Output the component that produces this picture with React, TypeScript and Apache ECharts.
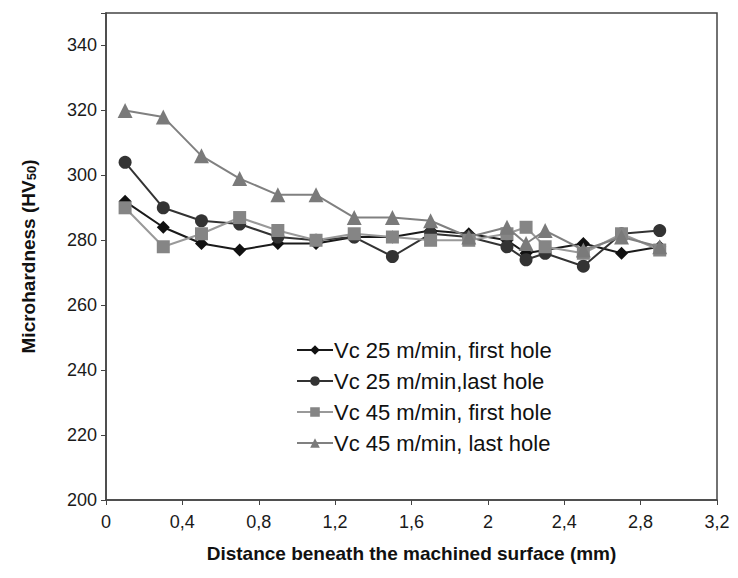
import React, { useEffect, useRef } from "react";
import * as echarts from "echarts";

const distances = [0.1, 0.3, 0.5, 0.7, 0.9, 1.1, 1.3, 1.5, 1.7, 1.9, 2.1, 2.2, 2.3, 2.5, 2.7, 2.9];
const vc25First = [292, 284, 279, 277, 279, 279, 281, 281, 283, 282, 280, 276, 277, 279, 276, 278];
const vc25Last = [304, 290, 286, 285, 281, 280, 281, 275, 282, 281, 278, 274, 276, 272, 282, 283];
const vc45First = [290, 278, 282, 287, 283, 280, 282, 281, 280, 280, 282, 284, 278, 276, 282, 277];
const vc45Last = [320, 318, 306, 299, 294, 294, 287, 287, 286, 281, 284, 279, 283, 277, 281, 278];

const seriesNames = [
  "Vc 25 m/min, first hole",
  "Vc 25 m/min,last hole",
  "Vc 45 m/min, first hole",
  "Vc 45 m/min, last hole",
];

const pair = (ys: number[]) => distances.map((x, i) => [x, ys[i]]);

export default function App() {
  const ref = useRef<HTMLDivElement>(null);
  useEffect(() => {
    if (!ref.current) return;
    const chart = echarts.init(ref.current, undefined, { renderer: "svg" });
    const font = "Liberation Sans, Arial, sans-serif";
    const mk = (name: string, data: number[], symbol: string, size: number, color: string, lineColor: string) => ({
      name,
      type: "line",
      data: pair(data),
      symbol,
      symbolSize: size,
      itemStyle: { color },
      lineStyle: { color: lineColor, width: 2 },
    });
    chart.setOption({
      animation: false,
      backgroundColor: "#ffffff",
      textStyle: { fontFamily: font },
      grid: {
        left: 106,
        right: 21,
        top: 13,
        bottom: 78,
        show: true,
        borderColor: "#444",
        borderWidth: 1.5,
      },
      legend: {
        orient: "vertical",
        left: 291,
        top: 334,
        itemWidth: 36,
        itemHeight: 12,
        itemGap: 9,
        textStyle: { fontSize: 22, color: "#111", fontFamily: font, padding: [0, 0, 0, -4] },
        data: seriesNames,
      },
      xAxis: {
        type: "value",
        min: 0,
        max: 3.2,
        interval: 0.4,
        name: "Distance beneath the machined surface (mm)",
        nameLocation: "middle",
        nameGap: 44,
        nameTextStyle: { fontSize: 19, fontWeight: "bold", color: "#111", fontFamily: font },
        axisLine: { lineStyle: { color: "#444", width: 1.5 } },
        axisTick: { show: true, inside: false, length: 5, lineStyle: { color: "#444" } },
        axisLabel: {
          fontSize: 18,
          color: "#1a1a1a",
          margin: 13,
          formatter: (v: number) => String(parseFloat(v.toFixed(1))).replace(".", ","),
        },
        splitLine: { show: false },
      },
      yAxis: {
        type: "value",
        min: 200,
        max: 350,
        interval: 20,
        name: "Microhardness (HV{sub|50})",
        nameLocation: "middle",
        nameGap: 68,
        nameTextStyle: {
          fontSize: 19,
          fontWeight: "bold",
          color: "#111",
          fontFamily: font,
          rich: {
            sub: { fontSize: 13, fontWeight: "bold", color: "#111", verticalAlign: "bottom", padding: [7, 0, 0, 0] },
          },
        },
        axisLine: { lineStyle: { color: "#444", width: 1.5 } },
        axisTick: { show: true, inside: false, length: 5, lineStyle: { color: "#444" } },
        axisLabel: {
          fontSize: 18,
          color: "#1a1a1a",
          margin: 9,
          formatter: (v: number) => (v > 340 ? "" : String(v)),
        },
        splitLine: { show: false },
      },
      series: [
        mk(seriesNames[0], vc25First, "diamond", 13, "#111111", "#1a1a1a"),
        mk(seriesNames[1], vc25Last, "circle", 13, "#333333", "#333333"),
        mk(seriesNames[2], vc45First, "rect", 13, "#858585", "#999999"),
        mk(seriesNames[3], vc45Last, "triangle", 15, "#7a7a7a", "#808080"),
      ],
    });
    return () => chart.dispose();
  }, []);
  return <div ref={ref} style={{ width: 738, height: 578, position: "absolute", left: 0, top: 0 }} />;
}
